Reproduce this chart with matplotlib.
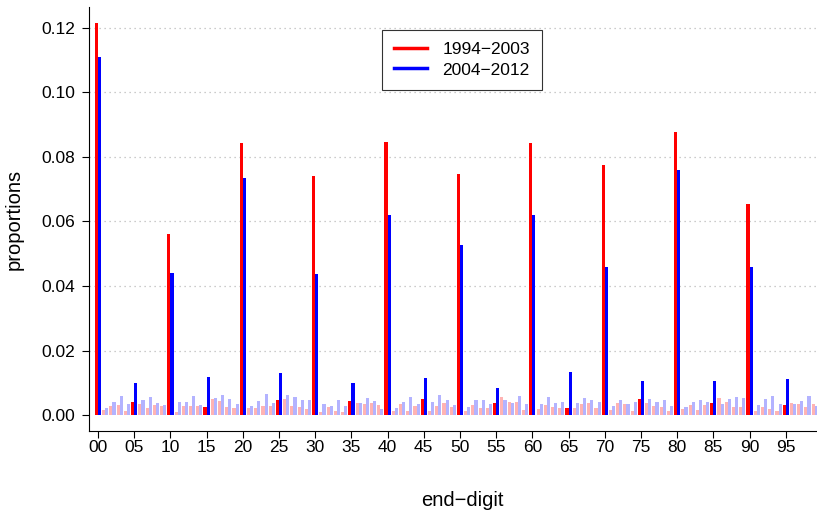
import matplotlib
matplotlib.use("Agg")
import matplotlib.pyplot as plt
import numpy as np
from matplotlib.lines import Line2D

plt.rcParams['font.family'] = ['Liberation Sans', 'DejaVu Sans']

digits = [f"{i:02d}" for i in range(100)]
tick_labels = [f"{i:02d}" for i in range(0, 100, 5)]

p_1994_2003 = [
    0.1215, 0.0017, 0.0030, 0.0032, 0.0012, 0.0041, 0.0035, 0.0023, 0.0032, 0.0028,
    0.0562, 0.0010, 0.0030, 0.0030, 0.0028, 0.0025, 0.0049, 0.0044, 0.0025, 0.0023,
    0.0844, 0.0023, 0.0022, 0.0030, 0.0030, 0.0047, 0.0051, 0.0030, 0.0026, 0.0018,
    0.0742, 0.0011, 0.0025, 0.0013, 0.0011, 0.0044, 0.0038, 0.0036, 0.0038, 0.0032,
    0.0847, 0.0013, 0.0034, 0.0013, 0.0029, 0.0049, 0.0013, 0.0029, 0.0038, 0.0025,
    0.0748, 0.0012, 0.0032, 0.0023, 0.0024, 0.0039, 0.0057, 0.0041, 0.0041, 0.0017,
    0.0844, 0.0021, 0.0032, 0.0027, 0.0022, 0.0023, 0.0022, 0.0034, 0.0038, 0.0023,
    0.0776, 0.0017, 0.0038, 0.0034, 0.0012, 0.0051, 0.0038, 0.0029, 0.0027, 0.0013,
    0.0878, 0.0020, 0.0032, 0.0017, 0.0032, 0.0039, 0.0055, 0.0041, 0.0025, 0.0025,
    0.0655, 0.0013, 0.0027, 0.0019, 0.0013, 0.0032, 0.0038, 0.0034, 0.0026, 0.0035,
]
p_2004_2012 = [
    0.1110, 0.0023, 0.0041, 0.0060, 0.0034, 0.0099, 0.0046, 0.0057, 0.0038, 0.0032,
    0.0439, 0.0041, 0.0041, 0.0059, 0.0032, 0.0117, 0.0054, 0.0063, 0.0050, 0.0034,
    0.0733, 0.0029, 0.0044, 0.0065, 0.0038, 0.0132, 0.0063, 0.0057, 0.0046, 0.0046,
    0.0436, 0.0034, 0.0030, 0.0047, 0.0028, 0.0100, 0.0039, 0.0053, 0.0043, 0.0021,
    0.0621, 0.0023, 0.0041, 0.0057, 0.0036, 0.0115, 0.0041, 0.0063, 0.0048, 0.0032,
    0.0528, 0.0026, 0.0046, 0.0046, 0.0036, 0.0085, 0.0048, 0.0039, 0.0059, 0.0035,
    0.0621, 0.0034, 0.0057, 0.0038, 0.0040, 0.0134, 0.0038, 0.0053, 0.0047, 0.0040,
    0.0460, 0.0030, 0.0047, 0.0035, 0.0041, 0.0106, 0.0050, 0.0040, 0.0046, 0.0028,
    0.0760, 0.0026, 0.0040, 0.0047, 0.0041, 0.0106, 0.0036, 0.0050, 0.0057, 0.0055,
    0.0460, 0.0032, 0.0050, 0.0059, 0.0035, 0.0112, 0.0035, 0.0043, 0.0060, 0.0028,
]
series_labels = ["1994\u22122003", "2004\u22122012"]

fig = plt.figure(figsize=(8.17, 5.15), dpi=100)
# plot region extends slightly past the right edge of the picture
ax = fig.add_axes([89/817, 84/515, 746/817, 424/515])

x = np.arange(100)
w = 0.43
is5 = (x % 5 == 0)
red_cols = ['#FF0000' if m else '#FFB3B3' for m in is5]
blue_cols = ['#0000FF' if m else '#B3B3FF' for m in is5]

yt = np.arange(0, 0.1201, 0.02)
for yv in yt[1:]:
    ax.axhline(yv, color='#BBBBBB', linestyle=(0, (1, 3)), linewidth=0.9, zorder=0)

ax.bar(x - 0.215, p_1994_2003, width=w, color=red_cols, linewidth=0, zorder=2)
ax.bar(x + 0.215, p_2004_2012, width=w, color=blue_cols, linewidth=0, zorder=2)

ax.set_xlim(-1.243, 101.8)
ax.set_ylim(-0.00486, 0.12636)
ax.set_xticks(np.arange(0, 100, 5))
ax.set_xticklabels(tick_labels)
ax.set_yticks(yt)
ax.set_yticklabels([f"{v:.2f}" for v in yt])
ax.tick_params(axis='both', direction='out', length=5, width=0.8, labelsize=12.5)
ax.tick_params(axis='y', pad=5)
ax.tick_params(axis='x', pad=1.5)
for s in ['top', 'right']:
    ax.spines[s].set_visible(False)
for s in ['left', 'bottom']:
    ax.spines[s].set_linewidth(0.8)

ax.set_xlabel("end\u2212digit", fontsize=14.5)
ax.set_ylabel("proportions", fontsize=14.5)
ax.xaxis.set_label_coords(0.5, (431 - 491) / 424)
ax.yaxis.set_label_coords((24 - 89) / 746, 0.5)

handles = [Line2D([0], [0], color='#FF0000', lw=2.5), Line2D([0], [0], color='#0000FF', lw=2.5)]
leg = ax.legend(handles, series_labels, loc='upper center', bbox_to_anchor=(0.5, 0.946),
                fontsize=12.5, frameon=True, fancybox=False, edgecolor='black',
                handlelength=1.9, borderpad=0.7, labelspacing=0.3, handletextpad=0.9,
                borderaxespad=0)
leg.get_frame().set_linewidth(0.8)

fig.savefig("out.png", dpi=100)
